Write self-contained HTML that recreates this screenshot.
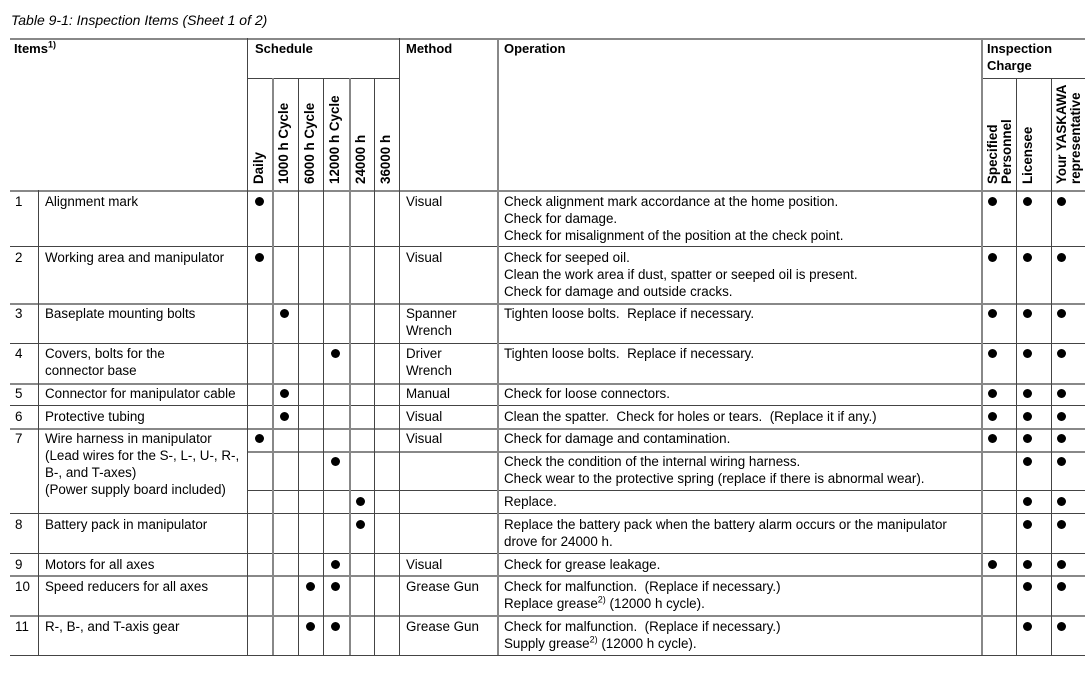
<!DOCTYPE html>
<html><head><meta charset="utf-8"><style>
body{margin:0;background:#fff;width:1091px;height:685px;position:relative;overflow:hidden;font-family:"Liberation Sans",Arial,sans-serif;color:#000}
.h{position:absolute;height:1px;background:#444}
.v{position:absolute;width:1px;background:#444}
.t{position:absolute;font-size:13.4px;line-height:17px;white-space:nowrap}
.b{font-weight:bold;font-size:13px}
.d{position:absolute;width:20px;height:17px}
.d::after{content:"";position:absolute;left:6px;top:4px;width:9px;height:9px;border-radius:50%;background:#000}
.r{position:absolute;font-weight:bold;font-size:13.4px;line-height:14px;transform:rotate(-90deg);transform-origin:left top;white-space:nowrap}
sup{font-size:9px;line-height:0}
</style></head><body>
<div class="t" style="left:11px;top:12px;font-style:italic;font-size:14px">Table 9-1: Inspection Items (Sheet 1 of 2)</div>

<div class="h" style="left:10px;width:1075px;top:38px;height:2px;background:#888"></div>
<div class="h" style="left:10px;width:1075px;top:190px;height:2px;background:#888"></div>
<div class="h" style="left:10px;width:1075px;top:246px"></div>
<div class="h" style="left:10px;width:1075px;top:303px;background:#888;height:2px"></div>
<div class="h" style="left:10px;width:1075px;top:343px"></div>
<div class="h" style="left:10px;width:1075px;top:383px;background:#888;height:2px"></div>
<div class="h" style="left:10px;width:1075px;top:405px"></div>
<div class="h" style="left:10px;width:1075px;top:428px;background:#888;height:2px"></div>
<div class="h" style="left:247px;width:838px;top:451px;background:#888;height:2px"></div>
<div class="h" style="left:247px;width:838px;top:490px"></div>
<div class="h" style="left:10px;width:1075px;top:513px"></div>
<div class="h" style="left:10px;width:1075px;top:553px"></div>
<div class="h" style="left:10px;width:1075px;top:575px;background:#888;height:2px"></div>
<div class="h" style="left:10px;width:1075px;top:615px;background:#888;height:2px"></div>
<div class="h" style="left:10px;width:1075px;top:655px"></div>
<div class="h" style="left:247px;width:152px;top:78px"></div>
<div class="h" style="left:981px;width:104px;top:78px"></div>

<div class="v" style="left:38px;top:190px;height:465px"></div>
<div class="v" style="left:247px;top:38px;height:617px"></div>
<div class="v" style="left:272px;top:78px;height:577px;background:#888;width:2px"></div>
<div class="v" style="left:298px;top:78px;height:577px"></div>
<div class="v" style="left:323px;top:78px;height:577px"></div>
<div class="v" style="left:349px;top:78px;height:577px;background:#888;width:2px"></div>
<div class="v" style="left:374px;top:78px;height:577px"></div>
<div class="v" style="left:399px;top:38px;height:617px"></div>
<div class="v" style="left:497px;top:38px;height:617px;background:#888;width:2px"></div>
<div class="v" style="left:981px;top:38px;height:617px;background:#888;width:2px"></div>
<div class="v" style="left:1016px;top:78px;height:577px"></div>
<div class="v" style="left:1051px;top:78px;height:577px"></div>

<div class="t b" style="left:14px;top:40px">Items<sup>1)</sup></div>
<div class="t b" style="left:255px;top:40px">Schedule</div>
<div class="t b" style="left:406px;top:40px">Method</div>
<div class="t b" style="left:504px;top:40px">Operation</div>
<div class="t b" style="left:987px;top:40px;line-height:17px">Inspection<br>Charge</div>

<div class="r" style="left:252px;top:184px">Daily</div>
<div class="r" style="left:277px;top:184px">1000 h Cycle</div>
<div class="r" style="left:303px;top:184px">6000 h Cycle</div>
<div class="r" style="left:328px;top:184px">12000 h Cycle</div>
<div class="r" style="left:354px;top:184px">24000 h</div>
<div class="r" style="left:379px;top:184px">36000 h</div>
<div class="r" style="left:986px;top:184px">Specified<br>Personnel</div>
<div class="r" style="left:1021px;top:184px">Licensee</div>
<div class="r" style="left:1055px;top:184px">Your YASKAWA<br>representative</div>

<div class="t" style="left:15px;top:193px">1</div><div class="t" style="left:45px;top:193px">Alignment mark</div>
<div class="t" style="left:406px;top:193px">Visual</div>
<div class="t" style="left:504px;top:193px">Check alignment mark accordance at the home position.<br>Check for damage.<br>Check for misalignment of the position at the check point.</div>

<div class="t" style="left:15px;top:249px">2</div><div class="t" style="left:45px;top:249px">Working area and manipulator</div>
<div class="t" style="left:406px;top:249px">Visual</div>
<div class="t" style="left:504px;top:249px">Check for seeped oil.<br>Clean the work area if dust, spatter or seeped oil is present.<br>Check for damage and outside cracks.</div>

<div class="t" style="left:15px;top:305px">3</div><div class="t" style="left:45px;top:305px">Baseplate mounting bolts</div>
<div class="t" style="left:406px;top:305px">Spanner<br>Wrench</div>
<div class="t" style="left:504px;top:305px">Tighten loose bolts.&nbsp; Replace if necessary.</div>

<div class="t" style="left:15px;top:345px">4</div><div class="t" style="left:45px;top:345px">Covers, bolts for the<br>connector base</div>
<div class="t" style="left:406px;top:345px">Driver<br>Wrench</div>
<div class="t" style="left:504px;top:345px">Tighten loose bolts.&nbsp; Replace if necessary.</div>

<div class="t" style="left:15px;top:385px">5</div><div class="t" style="left:45px;top:385px">Connector for manipulator cable</div>
<div class="t" style="left:406px;top:385px">Manual</div>
<div class="t" style="left:504px;top:385px">Check for loose connectors.</div>

<div class="t" style="left:15px;top:408px">6</div><div class="t" style="left:45px;top:408px">Protective tubing</div>
<div class="t" style="left:406px;top:408px">Visual</div>
<div class="t" style="left:504px;top:408px">Clean the spatter.&nbsp; Check for holes or tears.&nbsp; (Replace it if any.)</div>

<div class="t" style="left:15px;top:430px">7</div><div class="t" style="left:45px;top:430px">Wire harness in manipulator<br>(Lead wires for the S-, L-, U-, R-,<br>B-, and T-axes)<br>(Power supply board included)</div>
<div class="t" style="left:406px;top:430px">Visual</div>
<div class="t" style="left:504px;top:430px">Check for damage and contamination.</div>
<div class="t" style="left:504px;top:453px">Check the condition of the internal wiring harness.<br>Check wear to the protective spring (replace if there is abnormal wear).</div>
<div class="t" style="left:504px;top:493px">Replace.</div>

<div class="t" style="left:15px;top:516px">8</div><div class="t" style="left:45px;top:516px">Battery pack in manipulator</div>
<div class="t" style="left:504px;top:516px">Replace the battery pack when the battery alarm occurs or the manipulator<br>drove for 24000 h.</div>

<div class="t" style="left:15px;top:556px">9</div><div class="t" style="left:45px;top:556px">Motors for all axes</div>
<div class="t" style="left:406px;top:556px">Visual</div>
<div class="t" style="left:504px;top:556px">Check for grease leakage.</div>

<div class="t" style="left:15px;top:578px">10</div><div class="t" style="left:45px;top:578px">Speed reducers for all axes</div>
<div class="t" style="left:406px;top:578px">Grease Gun</div>
<div class="t" style="left:504px;top:578px">Check for malfunction.&nbsp; (Replace if necessary.)<br>Replace grease<sup>2)</sup> (12000 h cycle).</div>

<div class="t" style="left:15px;top:618px">11</div><div class="t" style="left:45px;top:618px">R-, B-, and T-axis gear</div>
<div class="t" style="left:406px;top:618px">Grease Gun</div>
<div class="t" style="left:504px;top:618px">Check for malfunction.&nbsp; (Replace if necessary.)<br>Supply grease<sup>2)</sup> (12000 h cycle).</div>

<div class="d" style="left:249px;top:193px"></div>
<div class="d" style="left:249px;top:249px"></div>
<div class="d" style="left:274px;top:305px"></div>
<div class="d" style="left:325px;top:345px"></div>
<div class="d" style="left:274px;top:385px"></div>
<div class="d" style="left:274px;top:408px"></div>
<div class="d" style="left:249px;top:430px"></div>
<div class="d" style="left:325px;top:453px"></div>
<div class="d" style="left:350px;top:493px"></div>
<div class="d" style="left:350px;top:516px"></div>
<div class="d" style="left:325px;top:556px"></div>
<div class="d" style="left:300px;top:578px"></div><div class="d" style="left:325px;top:578px"></div>
<div class="d" style="left:300px;top:618px"></div><div class="d" style="left:325px;top:618px"></div>

<div class="d" style="left:982px;top:193px"></div><div class="d" style="left:1017px;top:193px"></div><div class="d" style="left:1051px;top:193px"></div>
<div class="d" style="left:982px;top:249px"></div><div class="d" style="left:1017px;top:249px"></div><div class="d" style="left:1051px;top:249px"></div>
<div class="d" style="left:982px;top:305px"></div><div class="d" style="left:1017px;top:305px"></div><div class="d" style="left:1051px;top:305px"></div>
<div class="d" style="left:982px;top:345px"></div><div class="d" style="left:1017px;top:345px"></div><div class="d" style="left:1051px;top:345px"></div>
<div class="d" style="left:982px;top:385px"></div><div class="d" style="left:1017px;top:385px"></div><div class="d" style="left:1051px;top:385px"></div>
<div class="d" style="left:982px;top:408px"></div><div class="d" style="left:1017px;top:408px"></div><div class="d" style="left:1051px;top:408px"></div>
<div class="d" style="left:982px;top:430px"></div><div class="d" style="left:1017px;top:430px"></div><div class="d" style="left:1051px;top:430px"></div>
<div class="d" style="left:1017px;top:453px"></div><div class="d" style="left:1051px;top:453px"></div>
<div class="d" style="left:1017px;top:493px"></div><div class="d" style="left:1051px;top:493px"></div>
<div class="d" style="left:1017px;top:516px"></div><div class="d" style="left:1051px;top:516px"></div>
<div class="d" style="left:982px;top:556px"></div><div class="d" style="left:1017px;top:556px"></div><div class="d" style="left:1051px;top:556px"></div>
<div class="d" style="left:1017px;top:578px"></div><div class="d" style="left:1051px;top:578px"></div>
<div class="d" style="left:1017px;top:618px"></div><div class="d" style="left:1051px;top:618px"></div>
</body></html>
